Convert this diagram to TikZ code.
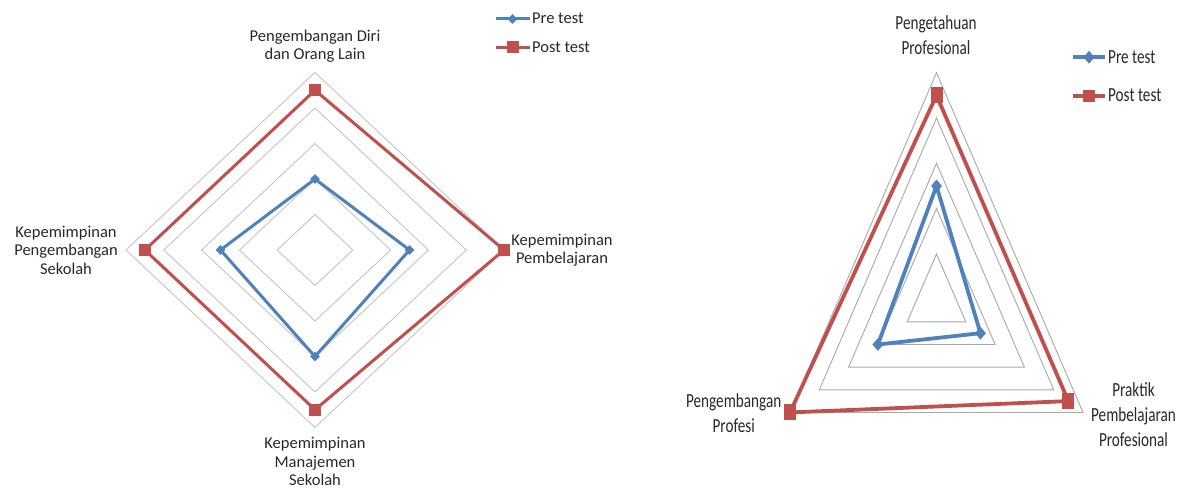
\documentclass[tikz,border=0pt]{standalone}
\usepackage{fontspec}
\setmainfont{Carlito}
\usetikzlibrary{shapes.geometric}
\definecolor{preblue}{RGB}{79,129,189}
\definecolor{postred}{RGB}{192,80,77}
\definecolor{gridL}{RGB}{196,196,196}
\definecolor{gridR}{RGB}{168,168,168}
\definecolor{txt}{RGB}{40,40,40}
\begin{document}
\begin{tikzpicture}[x=1pt,y=-1pt,
  lbl/.style={font=\fontsize{16.5}{18.5}\selectfont, text=txt, align=center, inner sep=0pt},
  lblR/.style={font=\fontsize{20}{25}\selectfont, text=txt, align=center, inner sep=0pt, xscale=0.76},
  legL/.style={font=\fontsize{16.5}{18.5}\selectfont, text=txt, inner sep=0pt, anchor=base west},
  legR/.style={font=\fontsize{20}{25}\selectfont, text=txt, inner sep=0pt, anchor=base west, xscale=0.76},
  gridlineL/.style={draw=gridL, line width=0.9pt},
  gridlineR/.style={draw=gridR, line width=0.9pt},
  preline/.style={draw=preblue, line width=3pt, line join=round},
  postline/.style={draw=postred, line width=3pt, line join=round},
  prelineR/.style={draw=preblue, line width=3.8pt, line join=round},
  postlineR/.style={draw=postred, line width=3.8pt, line join=round},
  premark/.style={diamond, fill=preblue, inner sep=0pt, minimum width=10pt, minimum height=10pt},
  postmark/.style={rectangle, fill=postred, inner sep=0pt, minimum width=12pt, minimum height=12pt},
  premarkR/.style={diamond, fill=preblue, inner sep=0pt, minimum width=11pt, minimum height=13pt},
  postmarkR/.style={rectangle, fill=postred, inner sep=0pt, minimum width=12pt, minimum height=16pt},
]
\useasboundingbox (0,0) rectangle (1187,489);
\fill[white] (0,0) rectangle (1187,489);

% ================= LEFT CHART =================
\foreach \k in {1,...,5}{
  \draw[gridlineL] (315,{250-35.5*\k}) -- ({315+37.8*\k},250) -- (315,{250+35.5*\k}) -- ({315-37.8*\k},250) -- cycle;
}
% post test
\coordinate (LpoT) at (315,90.25);
\coordinate (LpoR) at (504,250);
\coordinate (LpoB) at (315,409.75);
\coordinate (LpoL) at (144.9,250);
% pre test
\coordinate (LprT) at (315,179);
\coordinate (LprR) at (409.5,250);
\coordinate (LprB) at (315,356.5);
\coordinate (LprL) at (220.5,250);

\draw[postline] (LpoT) -- (LpoR) -- (LpoB) -- (LpoL) -- cycle;
\draw[preline] (LprT) -- (LprR) -- (LprB) -- (LprL) -- cycle;
\foreach \p in {LpoT,LpoR,LpoB,LpoL}{ \node[postmark] (m\p) at (\p) {}; }
\foreach \p in {LprT,LprR,LprB,LprL}{ \node[premark] (m\p) at (\p) {}; }

\node[lbl] (labLT) at (315,46.2) {Pengembangan Diri\\dan Orang Lain};
\node[lbl] (labLR) at (562,250) {Kepemimpinan\\Pembelajaran};
\node[lbl] (labLB) at (315,461.8) {Kepemimpinan\\Manajemen\\Sekolah};
\node[lbl] (labLL) at (66,250) {Kepemimpinan\\Pengembangan\\Sekolah};

% legend left
\coordinate (lgLa1) at (496,19);
\coordinate (lgLa2) at (530,19);
\coordinate (lgLb1) at (496,47.3);
\coordinate (lgLb2) at (530,47.3);
\draw[preline] (lgLa1) -- (lgLa2);
\node[premark] (lgLpre) at (512.5,19) {};
\draw[postline] (lgLb1) -- (lgLb2);
\node[postmark] (lgLpost) at (512.5,47.3) {};
\node[legL] (lgLpreT) at (532,24) {Pre test};
\node[legL] (lgLpostT) at (532,52.3) {Post test};

% ================= RIGHT CHART =================
\foreach \k in {1,...,5}{
  \draw[gridlineR] (936.5,{299.2-45.3*\k}) -- ({936.5+29.3*\k},{299.2+22.65*\k}) -- ({936.5-29.3*\k},{299.2+22.65*\k}) -- cycle;
}
\coordinate (RpoT) at (936.5,95.35);
\coordinate (RpoR) at (1068.35,401.1);
\coordinate (RpoL) at (790,412.45);
\coordinate (RprT) at (936.5,185.95);
\coordinate (RprR) at (980.45,333.2);
\coordinate (RprL) at (877.9,344.5);

\draw[postlineR] (RpoT) -- (RpoR) -- (RpoL) -- cycle;
\draw[prelineR] (RprT) -- (RprR) -- (RprL) -- cycle;
\foreach \p in {RpoT,RpoR,RpoL}{ \node[postmarkR] (m\p) at (\p) {}; }
\foreach \p in {RprT,RprR,RprL}{ \node[premarkR] (m\p) at (\p) {}; }

\node[lblR] (labRT) at (936,35.5) {Pengetahuan\\Profesional};
\node[lblR] (labRR) at (1133.5,414.5) {Praktik\\Pembelajaran\\Profesional};
\node[lblR] (labRL) at (733.7,413.5) {Pengembangan\\Profesi};

% legend right
\coordinate (lgRa1) at (1073,57.3);
\coordinate (lgRa2) at (1105,57.3);
\coordinate (lgRb1) at (1073,96);
\coordinate (lgRb2) at (1105,96);
\draw[prelineR] (lgRa1) -- (lgRa2);
\node[premarkR] (lgRpre) at (1089,57.3) {};
\draw[postlineR] (lgRb1) -- (lgRb2);
\node[postmark] (lgRpost) at (1089,96) {};
\node[legR] (lgRpreT) at (1108,64) {Pre test};
\node[legR] (lgRpostT) at (1108,101.7) {Post test};
\end{tikzpicture}
\end{document}
